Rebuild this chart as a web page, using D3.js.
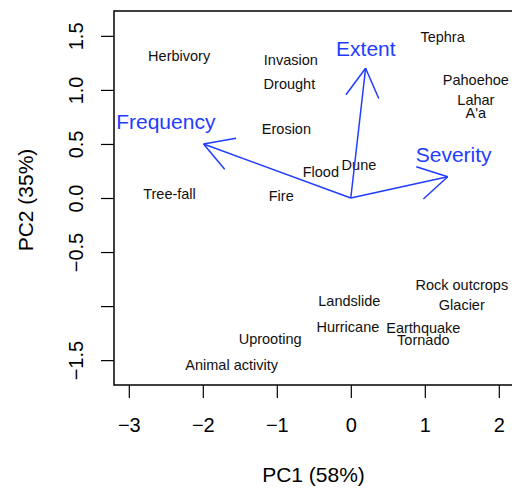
<!DOCTYPE html>
<html>
<head>
<meta charset="utf-8">
<script src="https://cdn.jsdelivr.net/npm/d3@7"></script>
<style>
  html, body { margin: 0; padding: 0; background: #fff; }
  svg { display: block; font-family: "Liberation Sans", Arial, Helvetica, sans-serif; }
</style>
</head>
<body>
<svg id="chart" width="512" height="488"></svg>
<script>
// Observations (site scores)
const sites = ["Herbivory","Invasion","Drought","Tephra","Pahoehoe","Lahar","A'a","Erosion","Flood","Dune",
               "Tree-fall","Fire","Rock outcrops","Glacier","Landslide","Hurricane","Earthquake","Tornado","Uprooting","Animal activity"];
const pc1 = [-2.32,-0.81,-0.83,1.24,1.69,1.69,1.69,-0.87,-0.405,0.11,-2.45,-0.94,1.5,1.5,-0.02,-0.04,0.98,0.98,-1.09,-1.61];
const pc2 = [1.317,1.28,1.056,1.49,1.09,0.91,0.79,0.64,0.24,0.31,0.037,0.019,-0.80,-0.985,-0.954,-1.19,-1.20,-1.31,-1.30,-1.54];

// Variable loadings (arrows)
const variables = ["Extent","Frequency","Severity"];
const tipX = [0.20,-1.99,1.31];
const tipY = [1.20,0.50,0.197];
const labX = [0.203,-2.50,1.39];
const labY = [1.386,0.706,0.407];

// Axis ticks
const xTicks = [-3,-2,-1,0,1,2];
const yTicks = [-1.5,-1.0,-0.5,0,0.5,1.0,1.5];
const yTickLabels = ["\u22121.5","","\u22120.5","0.0","0.5","1.0","1.5"];
const xTitle = "PC1 (58%)";
const yTitle = "PC2 (35%)";

const svg = d3.select("#chart");
const L = 114, T = 11, B = 385;
const x = d3.scaleLinear().domain([-3.2, 2.25]).range([L, L + 5.45 * 74]);
const y = d3.scaleLinear().domain([-1.73, 1.73]).range([B, T]);
const R = x.range()[1];
const blue = "#1f3cff";

// X axis
const gx = svg.append("g").attr("transform", `translate(0,${B})`)
  .call(d3.axisBottom(x).tickValues(xTicks).tickSize(13).tickFormat(d3.format("d")));
gx.select(".domain").remove();
gx.selectAll(".tick line").attr("stroke", "#000").attr("stroke-width", 1.2);
gx.selectAll(".tick text").attr("y", 47).attr("dy", 0)
  .attr("font-size", 20).attr("fill", "#000").attr("font-family", "Liberation Sans, Arial, sans-serif");

// Y axis
const gy = svg.append("g").attr("transform", `translate(${L},0)`)
  .call(d3.axisLeft(y).tickValues(yTicks).tickSize(13).tickFormat((d, i) => yTickLabels[i]));
gy.select(".domain").remove();
gy.selectAll(".tick line").attr("stroke", "#000").attr("stroke-width", 1.2);
gy.selectAll(".tick text")
  .attr("transform", "rotate(-90)")
  .attr("x", 0).attr("y", -31).attr("dy", 0)
  .attr("text-anchor", "middle")
  .attr("font-size", 20).attr("fill", "#000").attr("font-family", "Liberation Sans, Arial, sans-serif");

// Box
svg.append("rect").attr("x", L).attr("y", T).attr("width", R - L).attr("height", B - T)
  .attr("fill", "none").attr("stroke", "#000").attr("stroke-width", 1.5);

// Axis titles
svg.append("text").attr("x", (x(-3.2) + 517) / 2 - 2).attr("y", 482)
  .attr("text-anchor", "middle").attr("font-size", 21).text(xTitle);
svg.append("text").attr("transform", `translate(33,${200}) rotate(-90)`)
  .attr("text-anchor", "middle").attr("font-size", 21).text(yTitle);

// Site labels
svg.append("g").selectAll("text").data(sites).join("text")
  .attr("x", (d, i) => x(pc1[i]))
  .attr("y", (d, i) => y(pc2[i]))
  .attr("dy", "0.36em")
  .attr("text-anchor", "middle")
  .attr("font-size", 14.5)
  .attr("fill", "#111")
  .text(d => d);

// Arrows
const ga = svg.append("g").attr("stroke", blue).attr("stroke-width", 1.5).attr("fill", "none");
const ox = x(0), oy = y(0);
variables.forEach((v, i) => {
  const tx = x(tipX[i]), ty = y(tipY[i]);
  ga.append("line").attr("x1", ox).attr("y1", oy).attr("x2", tx).attr("y2", ty);
  const ang = Math.atan2(oy - ty, ox - tx);
  const len = 33, spread = Math.PI / 6;
  [ang - spread, ang + spread].forEach(a => {
    ga.append("line").attr("x1", tx).attr("y1", ty)
      .attr("x2", tx + len * Math.cos(a)).attr("y2", ty + len * Math.sin(a));
  });
});

svg.append("g").selectAll("text").data(variables).join("text")
  .attr("x", (d, i) => x(labX[i]))
  .attr("y", (d, i) => y(labY[i]))
  .attr("dy", "0.36em")
  .attr("text-anchor", "middle")
  .attr("font-size", 21)
  .attr("fill", blue)
  .text(d => d);
</script>
</body>
</html>
